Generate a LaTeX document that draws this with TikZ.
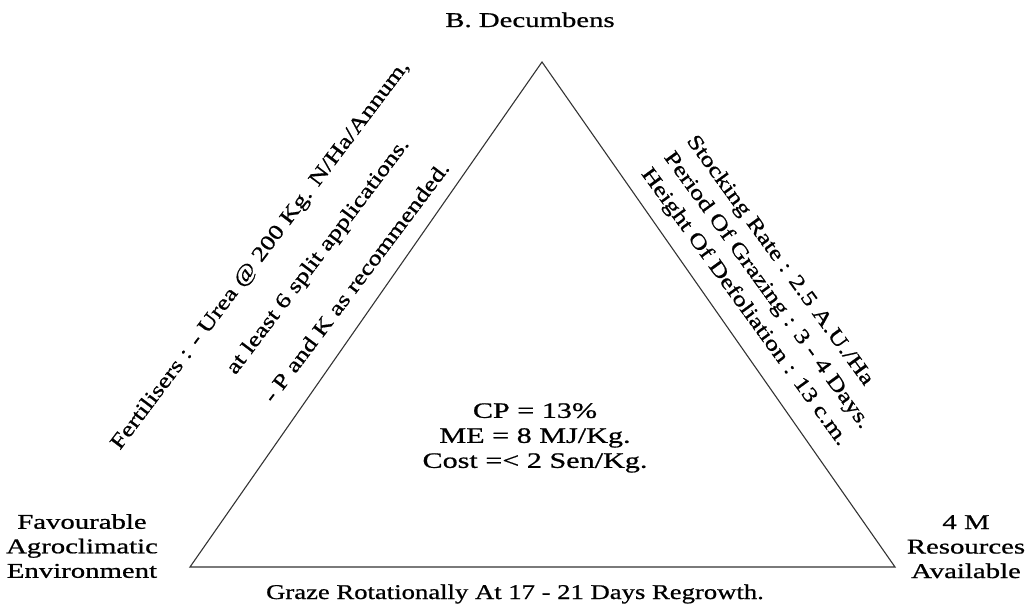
\documentclass[tikz,border=0pt]{standalone}
\usepackage{fontspec}
\setmainfont{Liberation Serif}[FakeStretch=1.37,FakeBold=0.8]
\newfontfamily\sidefont{Liberation Serif}[FakeStretch=1.27,FakeBold=0.8]
\tikzset{
  corner/.style={align=center,inner sep=0pt,font=\fontsize{21}{24.5}\selectfont},
  sidetext/.style={align=left,inner sep=0pt,font=\sidefont\fontsize{21}{47}\selectfont},
}
\begin{document}
\begin{tikzpicture}[x=1pt,y=-1pt]
	\useasboundingbox (0,0) rectangle (1033,609);
	\draw[line width=1.1pt,black!80] (542,62) coordinate (B)--(190,567) coordinate (L)--(895,567) coordinate (R)--cycle;
	\node[corner,anchor=base] (top) at (530,27) {B. Decumbens};
	\node[corner,anchor=north,font=\fontsize{22}{25}\selectfont] (centre) at (535,403) {CP = 13\%\\ME = 8 MJ/Kg.\\Cost =< 2 Sen/Kg.};
	\node[corner,anchor=north] (leftcorner) at (82,514) {Favourable\\Agroclimatic\\Environment};
	\node[corner,anchor=north] (rightcorner) at (966,515) {4 M\\Resources\\Available};
	\node[corner,anchor=base,font=\sidefont\fontsize{21}{24.5}\selectfont] (bottom) at (515,599) {Graze Rotationally At 17 - 21 Days Regrowth.};
	\node[sidetext,rotate=53,anchor=north west] (leftside) at (108,442) {Fertilisers : - Urea @ 200 Kg. N/Ha/Annum,\\\hphantom{Fertilisers : }at least 6 split applications.\\\hphantom{Fertilisers : }- P and K as recommended.};
	\node[sidetext,rotate=-54,anchor=north west,font=\sidefont\fontsize{21}{28}\selectfont] (rightside) at (698,132) {Stocking Rate : 2.5 A.U./Ha\\Period Of Grazing : 3 - 4 Days.\\Height Of Defoliation : 13 c.m.};
\end{tikzpicture}
\end{document}
